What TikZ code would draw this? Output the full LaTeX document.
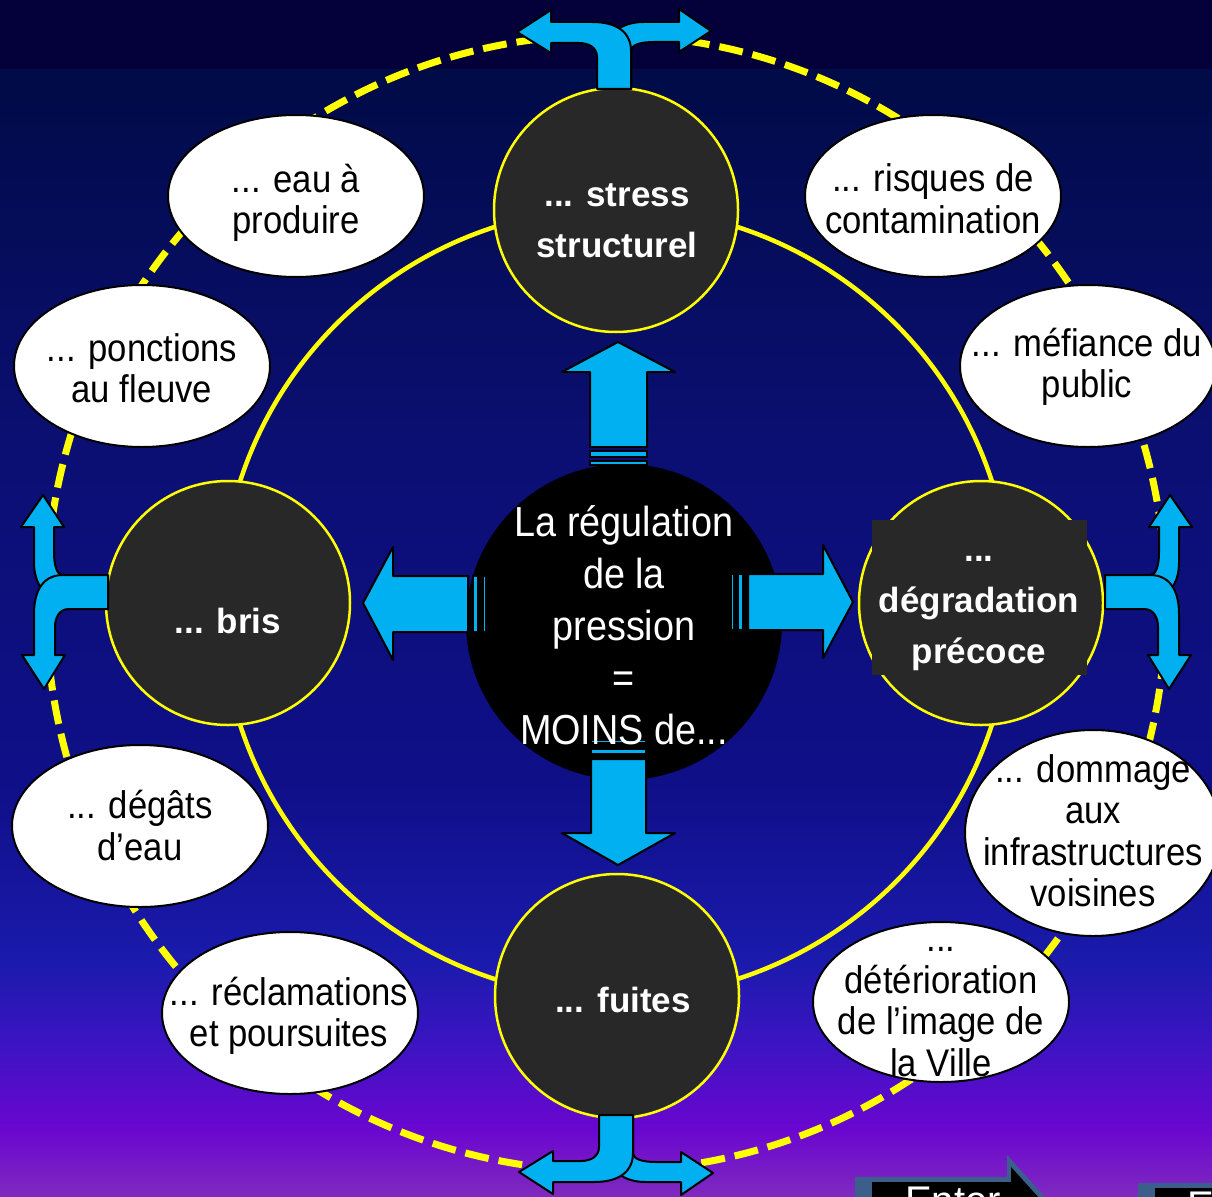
\documentclass[tikz,border=0pt]{standalone}
\usepackage{fontspec}
\setmainfont{Liberation Sans}
\newfontfamily\narrowfont[FakeStretch=0.9]{Liberation Sans}
\usetikzlibrary{shapes.geometric}
\definecolor{bgA}{HTML}{03003A}
\definecolor{bgB}{HTML}{000B47}
\definecolor{bgC}{HTML}{0B0F72}
\definecolor{bgD}{HTML}{0F0F88}
\definecolor{bgE}{HTML}{1A1AAC}
\definecolor{bgF}{HTML}{3C14C2}
\definecolor{bgG}{HTML}{6A06D0}
\definecolor{bgH}{HTML}{7F2ABF}
\definecolor{cyanarrow}{HTML}{00B0F0}
\definecolor{darknode}{HTML}{282828}
\definecolor{yel}{HTML}{FFFF00}
\definecolor{steel}{HTML}{3C5E8A}
\tikzset{
  bubble/.style={ellipse, draw=black, line width=2, fill=white, inner sep=0},
  btext/.style={font=\narrowfont\fontsize{38.5}{41.5}\selectfont, align=center, text=black, inner sep=0,
    execute at begin node=\strut, execute at end node=\strut},
  ctext/.style={font=\narrowfont\fontsize{42}{52}\selectfont, align=center, text=white, inner sep=0,
    execute at begin node=\strut, execute at end node=\strut},
  dtext/.style={font=\bfseries\fontsize{35}{51}\selectfont, align=center, text=white, inner sep=0,
    execute at begin node=\strut, execute at end node=\strut},
  darkcircle/.style={circle, fill=darknode, draw=yel, line width=2.5, minimum size=244, inner sep=0},
  cy/.style={fill=cyanarrow, draw=black, line width=2, line join=round},
  cys/.style={fill=cyanarrow, draw=black, line width=1.5},
  dashring/.style={draw=yel, line width=7, dash pattern=on 24pt off 10pt},
  solidring/.style={draw=yel, line width=4.5},
}
\newcommand\splitarrow[2]{%
\begin{scope}[#1]
\begin{scope}[yshift=#2pt]
\draw[cy] (17,#2) -- (17,-38) .. controls (17,-44) and (26,-47) .. (40,-47) -- (65,-47) -- (65,-37) -- (97,-58) -- (65,-80) -- (65,-67) -- (30,-67) .. controls (12,-67) and (0,-60) .. (-3,-50) -- (-3,#2) -- cycle;
\draw[cy] (-17,#2) -- (17,#2) -- (17,-38) .. controls (17,-56) and (4,-67) .. (-22,-67) -- (-63,-67) -- (-63,-79) -- (-97,-57) -- (-63,-36) -- (-63,-46) -- (-35,-46) .. controls (-26,-46) and (-17,-42) .. (-17,-32) -- cycle;
\end{scope}
\end{scope}}
\begin{document}
\begin{tikzpicture}[x=1pt,y=-1pt]
\useasboundingbox (0,0) rectangle (1212,1196);
\clip (0,0) rectangle (1212,1196);
% background
\fill[bgA] (0,0) rectangle (1212,71);
\shade[top color=bgB, bottom color=bgC] (0,70) rectangle (1212,440);
\shade[top color=bgC, bottom color=bgD] (0,439) rectangle (1212,780);
\shade[top color=bgD, bottom color=bgE] (0,779) rectangle (1212,960);
\shade[top color=bgE, bottom color=bgF] (0,959) rectangle (1212,1045);
\shade[top color=bgF, bottom color=bgG] (0,1044) rectangle (1212,1130);
\shade[top color=bgG, bottom color=bgH] (0,1129) rectangle (1212,1196);
% rings
\draw[dashring] (606,603) ellipse [x radius=560pt, y radius=568pt];
\draw[solidring] (616,603) circle [radius=395pt];
% outer bubbles
\node[bubble, minimum width=256, minimum height=162] (e1) at (296,196) {};
\node[btext] (t1) at (296,205) {... eau à\\produire};
\node[bubble, minimum width=256, minimum height=162] (e2) at (142,366) {};
\node[btext] (t2) at (142,374.5) {... ponctions\\au fleuve};
\node[bubble, minimum width=256, minimum height=162] (e3) at (933,196) {};
\node[btext] (t3) at (933,205) {... risques de\\contamination};
\node[bubble, minimum width=256, minimum height=162] (e4) at (1088,366) {};
\node[btext] (t4) at (1087,369) {... méfiance du\\public};
\node[bubble, minimum width=256, minimum height=162] (e5) at (140,826) {};
\node[btext] (t5) at (140,831.5) {... dégâts\\d’eau};
\node[bubble, minimum width=256, minimum height=162] (e6) at (290,1013) {};
\node[btext] (t6) at (289,1018) {... réclamations\\et poursuites};
\node[bubble, minimum width=256, minimum height=206] (e7) at (1093,833) {};
\node[btext] (t7) at (1093,837) {... dommage\\aux\\infrastructures\\voisines};
\node[bubble, minimum width=256, minimum height=160] (e8) at (941,1002) {};
\node[btext] (t8) at (941,1018) {...\\détérioration\\de l’image de\\la Ville};
% dark nodes
\node[darkcircle] (stress) at (616,210) {};
\node[darkcircle] (bris) at (228,603) {};
\node[darkcircle] (fuites) at (617,996) {};
\node[darkcircle] (degr) at (981,603) {};
\fill[darknode] (872,520) rectangle (1087,675);
\node[dtext] (ts) at (617,228.5) {... stress\\structurel};
\node[dtext] (tb) at (228,623) {... bris};
\node[dtext] (tf) at (623,1002) {... fuites};
\node[dtext] (td) at (979,618) {...\\dégradation\\précoce};
% center
\node[circle, fill=black, minimum size=316, inner sep=0] (ctr) at (624,622) {};
% straight arrows
\draw[cys] (590,461) rectangle (647,465);
\draw[cys] (590,451) rectangle (647,457);
\draw[cy] (590,447) -- (590,372) -- (562,372) -- (618,342) -- (675,372) -- (647,372) -- (647,447) -- cycle;
\draw[cys] (591,740) rectangle (646,743);
\draw[cys] (591,749) rectangle (646,754);
\draw[cy] (591,759) -- (591,833) -- (562,833) -- (618,865) -- (675,833) -- (646,833) -- (646,759) -- cycle;
\draw[cy] (468,576) -- (393,576) -- (393,547) -- (363,603) -- (393,660) -- (393,632) -- (468,632) -- cycle;
\draw[cys] (473,576) rectangle (478,632);
\draw[cys] (483,576) rectangle (486,632);
\draw[cy] (748,574) -- (823,574) -- (823,545) -- (853,602) -- (823,658) -- (823,630) -- (748,630) -- cycle;
\draw[cys] (738,574) rectangle (743,630);
\draw[cys] (731,574) rectangle (734,630);
\node[ctext] (tc) at (624,633) {La régulation\\de la\\pression\\=\\MOINS de...};
% split arrows
\splitarrow{shift={(614,89)}}{0}
\splitarrow{shift={(616,1115)}, yscale=-1}{0}
\splitarrow{shift={(108,592)}, rotate=90}{7}
\splitarrow{shift={(1105,592)}, rotate=-90, xscale=-1}{7}
% buttons
\fill[steel] (855,1177) -- (1007,1177) -- (1007,1155) -- (1075,1230) -- (1007,1305) -- (855,1305) -- cycle;
\fill[black] (872,1182) -- (1011,1182) -- (1011,1167) -- (1068,1230) -- (1011,1293) -- (872,1293) -- cycle;
\node[font=\fontsize{40}{44}\selectfont, text=white, anchor=base west, inner sep=0] (enter) at (905,1214) {Enter};
\fill[steel] (1138,1183) rectangle (1260,1300);
\fill[black] (1155,1188) rectangle (1260,1300);
\node[font=\fontsize{40}{44}\selectfont, text=white, anchor=base west, inner sep=0] (enter2) at (1187,1219) {E};
\end{tikzpicture}
\end{document}
